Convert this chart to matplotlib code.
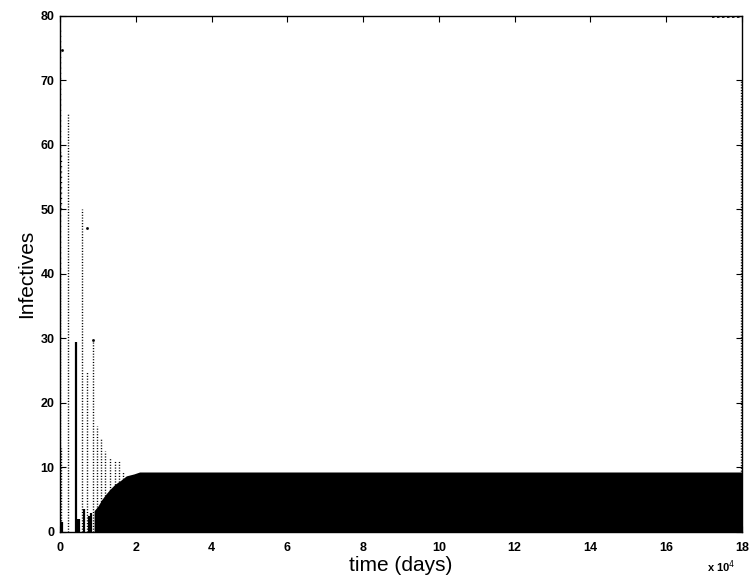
import numpy as np
import matplotlib
matplotlib.use("Agg")
import matplotlib.pyplot as plt

"""
Infectives over time: stochastic run, early epidemic spikes then endemic band.
Time is given in units of 10^4 days.
"""

# endemic band: time (x 1e4 days) and upper envelope of infectives
band_t = [0.90, 1.00, 1.10, 1.20, 1.30, 1.45, 1.60, 1.75, 1.95, 2.10, 18.0]
band_top = [3.3, 4.0, 5.0, 5.8, 6.5, 7.4, 8.0, 8.7, 9.0, 9.3, 9.3]

# early dotted spikes (time, peak infectives)
spike_t = [0.02, 0.21, 0.59, 0.71, 0.87, 0.97, 1.08, 1.19, 1.31, 1.45, 1.56, 1.66]
spike_top = [13.0, 65.0, 50.0, 25.0, 30.0, 16.5, 14.4, 12.6, 11.7, 11.0, 11.0, 9.5]

# sparse high points of the very first outbreak
first_t = [0.0, 0.02]
first_low = [40.0, 50.0]
first_high = [78.0, 59.0]

# solid short runs near the start
solid_t = [0.05, 0.41, 0.44, 0.50, 0.62, 0.76, 0.82]
solid_top = [1.5, 29.4, 2.0, 2.0, 3.5, 2.5, 3.0]

# isolated points
dot_t = [0.06, 0.71, 0.86]
dot_y = [74.7, 47.2, 29.8]

# reintroduction at the very end of the run
end_t = [17.97]
end_low = [9.0]
end_high = [70.0]
top_row_t = [17.2, 18.0]
top_row_y = [79.8, 79.8]


def main():
    plt.rcParams["font.family"] = ["Liberation Sans", "DejaVu Sans"]
    fig = plt.figure(figsize=(7.52, 5.79), dpi=100)
    ax = fig.add_axes([0.0798, 0.0812, 0.9069, 0.8912])

    dots = (0, (0.8, 1.2))
    ax.fill_between(band_t, 0, band_top, color="black", lw=0)
    ax.vlines(spike_t, 0, spike_top, colors="black", linestyles=[dots], lw=1.0)
    ax.vlines(first_t, first_low, first_high, colors="black", linestyles=[(0, (0.8, 3))], lw=1.0)
    ax.vlines(first_t[:1], 0, first_low[:1], colors="black", linestyles=[dots], lw=1.0)
    ax.vlines(solid_t, 0, solid_top, colors="black", lw=1.6)
    ax.plot(dot_t, dot_y, ls="none", marker="s", ms=0.9, color="black")
    ax.vlines(end_t, end_low, end_high, colors="black", linestyles=[dots], lw=1.0)
    ax.plot(top_row_t, top_row_y, color="black", ls=(0, (1.5, 1.5)), lw=1.2)

    ax.set_xlim(0, 18)
    ax.set_ylim(0, 80)
    ax.set_xticks(np.arange(0, 19, 2))
    ax.set_yticks(np.arange(0, 81, 10))
    ax.tick_params(direction="in", top=True, right=True, length=4, width=0.8,
                   labelsize=9)
    ax.tick_params(axis="x", pad=7)
    ax.tick_params(axis="y", pad=4)
    for lab in ax.get_xticklabels() + ax.get_yticklabels():
        lab.set_fontweight("bold")
    for sp in ax.spines.values():
        sp.set_linewidth(1.0)

    ax.set_xlabel("time (days)", fontsize=15, labelpad=2)
    ax.set_ylabel("Infectives", fontsize=15, labelpad=3)
    ax.text(0.99, -0.068, r"x 10$^4$", transform=ax.transAxes, ha="right",
            va="center", fontsize=8, fontweight="bold")

    fig.savefig("out.png", dpi=100)


if __name__ == "__main__":
    main()
